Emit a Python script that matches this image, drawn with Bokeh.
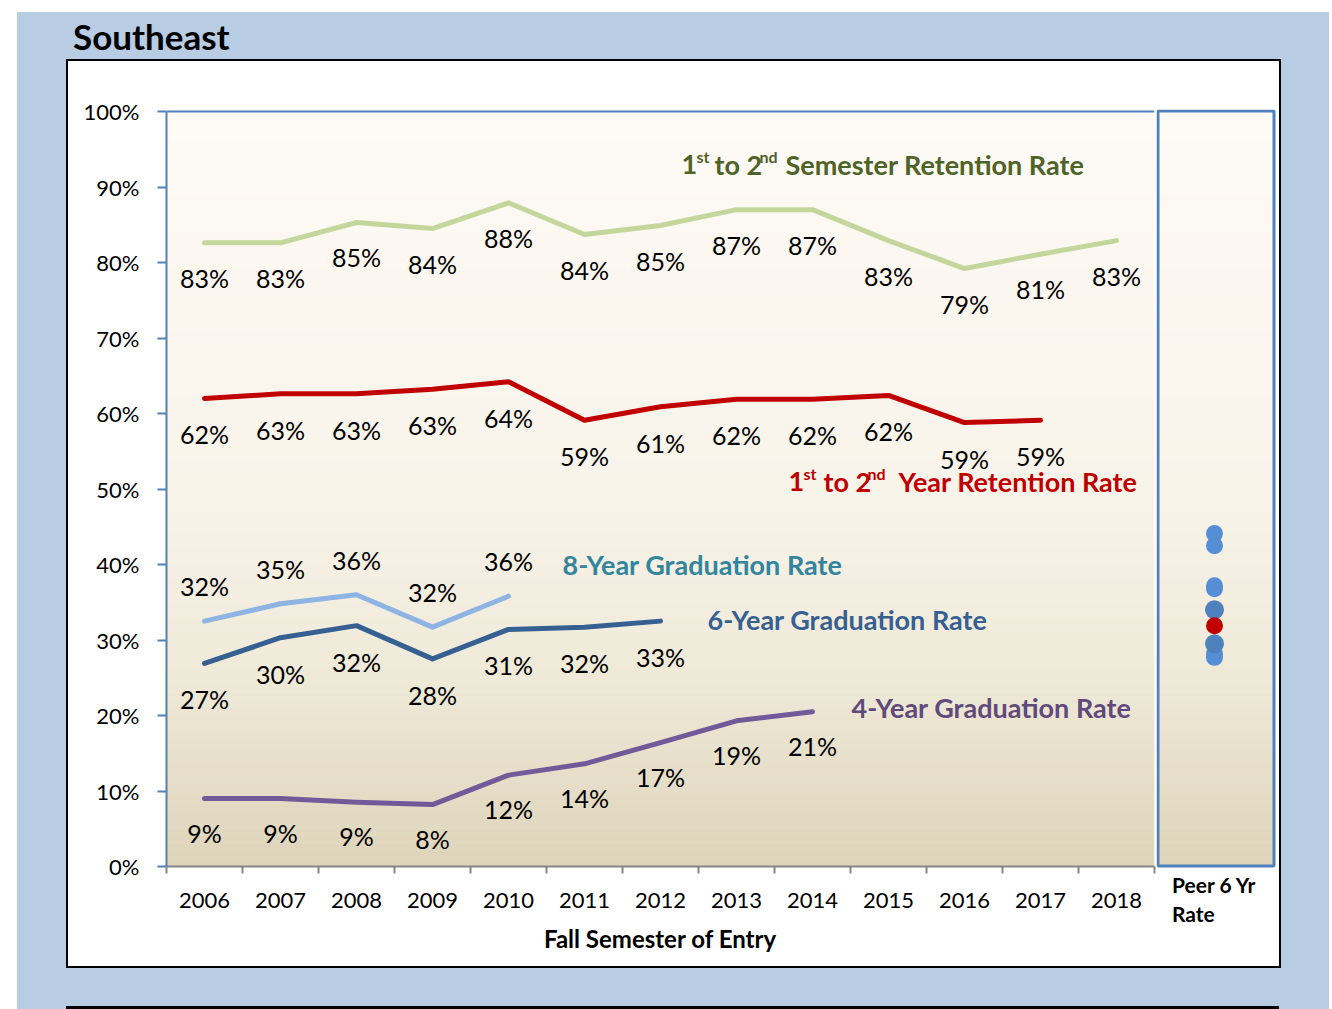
from bokeh.plotting import figure
from bokeh.models import Range1d, FixedTicker, PrintfTickFormatter, Div
from bokeh.layouts import column, row
from bokeh.embed import file_html
from bokeh.resources import INLINE
from bokeh.core.properties import value
import numpy as np

# ---------------- data ----------------
years = [2006, 2007, 2008, 2009, 2010, 2011, 2012, 2013, 2014, 2015, 2016, 2017, 2018]
year_ticks = [str(y) for y in years]
y_ticks = [0, 10, 20, 30, 40, 50, 60, 70, 80, 90, 100]

semester_retention = [82.6, 82.6, 85.3, 84.5, 87.9, 83.7, 84.9, 87.0, 87.0, 82.9, 79.2, 81.1, 82.9]
semester_text = ["83%", "83%", "85%", "84%", "88%", "84%", "85%", "87%", "87%", "83%", "79%", "81%", "83%"]

year_retention = [62.0, 62.6, 62.6, 63.2, 64.2, 59.1, 60.9, 61.9, 61.9, 62.4, 58.8, 59.1]
year_text = ["62%", "63%", "63%", "63%", "64%", "59%", "61%", "62%", "62%", "62%", "59%", "59%"]

grad8 = [32.5, 34.8, 36.0, 31.7, 35.8]
grad8_text = ["32%", "35%", "36%", "32%", "36%"]

grad6 = [26.9, 30.3, 31.9, 27.5, 31.4, 31.7, 32.5]
grad6_text = ["27%", "30%", "32%", "28%", "31%", "32%", "33%"]

grad4 = [9.0, 9.0, 8.5, 8.2, 12.1, 13.6, 16.4, 19.3, 20.5]
grad4_text = ["9%", "9%", "9%", "8%", "12%", "14%", "17%", "19%", "21%"]

peer_rates = [44.1, 42.5, 37.2, 36.8, 34.0, 29.5, 28.2, 27.7]
peer_dark = [False, False, False, False, True, True, False, False]
own_rate = [31.9]

x_title = "Fall Semester of Entry"
peer_title_lines = ["Peer 6 Yr", "Rate"]

# ---------------- geometry helpers ----------------
PX_X = 76.0      # px per category
PX_Y = 7.55      # px per percent
X0_PX = 166.0    # screen x of category 0 edge
Y0_PX = 866.0    # screen y of 0%

def sx(px):
    return (px - X0_PX) / PX_X

def sy(py):
    return (Y0_PX - py) / PX_Y

FONT = "Lato"
BLUE_BG = "#b8cce4"

# gradient colours
stops_y = [0, 25, 50, 100]
stops_c = [(0xdd, 0xd4, 0xba), (0xef, 0xe9, 0xd8), (0xf8, 0xf4, 0xea), (0xfe, 0xfa, 0xf5)]
edges = np.linspace(0, 100, 101)
mids = (edges[:-1] + edges[1:]) / 2
grad_cols = []
for m in mids:
    r = int(round(np.interp(m, stops_y, [c[0] for c in stops_c])))
    g = int(round(np.interp(m, stops_y, [c[1] for c in stops_c])))
    b = int(round(np.interp(m, stops_y, [c[2] for c in stops_c])))
    grad_cols.append("#%02x%02x%02x" % (r, g, b))
grad_bottom = edges[:-1]
grad_top = np.minimum(edges[1:] + 0.08, 100)

# ---------------- main figure ----------------
p = figure(width=1088, height=905, output_backend="svg", toolbar_location=None,
           x_range=Range1d(0, len(years)), y_range=Range1d(0, 757 / PX_Y),
           min_border_left=98, min_border_right=2, min_border_top=48, min_border_bottom=100,
           margin=0)
p.background_fill_color = "white"
p.border_fill_color = "white"
p.outline_line_color = None
p.xgrid.visible = False
p.ygrid.visible = False

p.quad(left=0, right=len(years), bottom=grad_bottom, top=grad_top,
       fill_color=grad_cols, line_color=None)
p.line(x=[0, len(years)], y=[100, 100], line_color="#4f81bd", line_width=2)

xc = [i + 0.5 for i in range(len(years))]

def series(vals, texts, color, below=True, off=37):
    xs = xc[:len(vals)]
    p.line(x=xs, y=vals, line_color=color, line_width=5, line_join="round", line_cap="round")
    d = off / PX_Y
    ty = [v - d if below else v + d for v in vals]
    p.text(x=xs, y=ty, text=texts, text_font=value(FONT), text_font_size="25px",
           text_align="center", text_baseline="middle", text_color="black")

series(semester_retention, semester_text, "#c3d69b", below=True, off=35)
series(year_retention, year_text, "#c00000", below=True, off=36)
series(grad8, grad8_text, "#8eb4e3", below=False, off=35)
series(grad6, grad6_text, "#376092", below=True, off=36)
series(grad4, grad4_text, "#725a9a", below=True, off=34)

MAIN = "27px"
SUP = "16px"
SUP_RAISE = 8 / PX_Y

def piece(txt, px, base_py, color, sup=False):
    p.text(x=[sx(px)], y=[sy(base_py) + (SUP_RAISE if sup else 0)], text=[txt],
           text_font=value(FONT), text_font_style="bold",
           text_font_size=SUP if sup else MAIN, text_color=color,
           text_align="left", text_baseline="alphabetic")

GREEN_T = "#4f6228"
piece("1", 681, 164, GREEN_T)
piece("st", 696, 164, GREEN_T, sup=True)
piece("to 2", 714, 164, GREEN_T)
piece("nd", 759, 164, GREEN_T, sup=True)
piece("Semester Retention Rate", 785, 164, GREEN_T)

RED_T = "#c00000"
piece("1", 788, 481, RED_T)
piece("st", 803, 481, RED_T, sup=True)
piece("to 2", 823, 481, RED_T)
piece("nd", 867, 481, RED_T, sup=True)
piece("Year Retention Rate", 898, 481, RED_T)

def name(txt, px, py, color):
    p.text(x=[sx(px)], y=[sy(py)], text=[txt], text_font=value(FONT), text_font_style="bold",
           text_font_size=MAIN, text_color=color, text_align="left", text_baseline="middle")

name("8-Year Graduation Rate", 562, 564, "#31859c")
name("6-Year Graduation Rate", 707, 619, "#376092")
name("4-Year Graduation Rate", 851, 707, "#604a7b")

xa = p.xaxis[0]
xa.ticker = FixedTicker(ticks=xc, minor_ticks=list(range(len(years) + 1)))
xa.major_label_overrides = {x: t for x, t in zip(xc, year_ticks)}
xa.axis_line_color = "#868686"
xa.axis_line_width = 2
xa.major_tick_line_color = None
xa.major_tick_out = 0
xa.major_tick_in = 0
xa.minor_tick_line_color = "#868686"
xa.minor_tick_line_width = 2
xa.minor_tick_out = 7
xa.minor_tick_in = 0
xa.major_label_standoff = 19
xa.major_label_text_font = FONT
xa.major_label_text_font_size = "22px"
xa.major_label_text_color = "black"
xa.axis_label = x_title
xa.axis_label_text_font = FONT
xa.axis_label_text_font_style = "bold"
xa.axis_label_text_font_size = "24px"
xa.axis_label_text_color = "black"
xa.axis_label_standoff = 13

ya = p.yaxis[0]
ya.ticker = FixedTicker(ticks=y_ticks)
ya.formatter = PrintfTickFormatter(format="%d%%")
ya.bounds = (0, 100)
ya.axis_line_color = "#4f81bd"
ya.axis_line_width = 2
ya.major_tick_line_color = "#4f81bd"
ya.major_tick_line_width = 2
ya.major_tick_out = 9
ya.major_tick_in = 0
ya.minor_tick_line_color = None
ya.major_label_standoff = 18
ya.major_label_text_font = FONT
ya.major_label_text_font_size = "22px"
ya.major_label_text_color = "black"

# ---------------- peer figure ----------------
PEER_L, PEER_R = 1156.0, 1276.0
PEER_W = PEER_R - PEER_L

def peer_x(px):
    return (px - PEER_L) / PEER_W

q = figure(width=123, height=809, output_backend="svg", toolbar_location=None,
           x_range=Range1d(0, 1), y_range=Range1d(-2 / PX_Y, 757 / PX_Y),
           x_axis_location=None, y_axis_location=None,
           min_border_left=0, min_border_right=3, min_border_top=48, min_border_bottom=2,
           margin=0)
q.background_fill_color = "white"
q.border_fill_color = "white"
q.outline_line_color = None
q.xgrid.visible = False
q.ygrid.visible = False
q.quad(left=peer_x(1157), right=peer_x(1274), bottom=grad_bottom, top=grad_top,
       fill_color=grad_cols, line_color=None)
q.quad(left=peer_x(1157.5), right=peer_x(1273.5), bottom=sy(865.5), top=sy(110.5),
       fill_color=None, line_color="#4f81bd", line_width=3)

dot_x = peer_x(1214)
light = [r for r, d in zip(peer_rates, peer_dark) if not d]
dark = [r for r, d in zip(peer_rates, peer_dark) if d]
q.scatter(x=[dot_x] * len(light), y=light, size=17, fill_color="#558ed5", line_color=None)
q.scatter(x=[dot_x] * len(dark), y=dark, size=19, fill_color="#4f81bd", line_color=None)
q.scatter(x=[dot_x] * len(own_rate), y=own_rate, size=17, fill_color="#c00000", line_color=None)

peer_label = Div(text='<div style="margin-left:16px;margin-top:0px">' + "<br>".join(peer_title_lines) + "</div>",
                 width=123, height=96, margin=0,
                 styles={"font-family": FONT, "font-weight": "bold", "font-size": "21px",
                         "line-height": "29px", "color": "black", "background-color": "white"})
peer_col = column(q, peer_label, margin=0)

# ---------------- page layout ----------------
title = Div(text="Southeast", width=400, height=37, margin=(6, 0, 0, 56),
            styles={"font-family": FONT, "font-weight": "bold", "font-size": "35px",
                    "line-height": "37px", "color": "black"})
box = row(p, peer_col, margin=(6, 50, 0, 51),
          styles={"outline": "2px solid black", "background-color": "white"})
bottom = Div(text="", width=1213, height=3, margin=(40, 50, 0, 49),
             styles={"border-top": "3px solid black", "background-color": "white"})

root = column(title, box, bottom, margin=(12, 0, 0, 17), styles={"background-color": BLUE_BG})

open("out.html", "w").write(file_html(root, INLINE))
